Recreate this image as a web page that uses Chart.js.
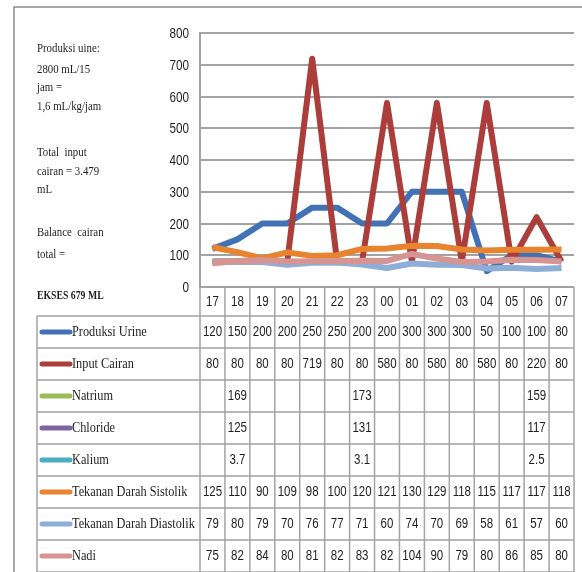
<!DOCTYPE html>
<html>
<head>
<meta charset="utf-8">
<script src="https://cdn.jsdelivr.net/npm/chart.js@4"></script>
<style>
  html, body { margin: 0; padding: 0; background: #fff; }
</style>
</head>
<body>
<canvas id="balanceChart" width="582" height="572"></canvas>
<script>
// Hours of observation (column headers of the table)
const hours = ['17', '18', '19', '20', '21', '22', '23', '00', '01', '02', '03', '04', '05', '06', '07'];

const produksiUrine = [120, 150, 200, 200, 250, 250, 200, 200, 300, 300, 300, 50, 100, 100, 80];
const inputCairan   = [80, 80, 80, 80, 719, 80, 80, 580, 80, 580, 80, 580, 80, 220, 80];
const natrium       = [null, 169, null, null, null, null, 173, null, null, null, null, null, null, 159, null];
const chloride      = [null, 125, null, null, null, null, 131, null, null, null, null, null, null, 117, null];
const kalium        = [null, 3.7, null, null, null, null, 3.1, null, null, null, null, null, null, 2.5, null];
const sistolik      = [125, 110, 90, 109, 98, 100, 120, 121, 130, 129, 118, 115, 117, 117, 118];
const diastolik     = [79, 80, 79, 70, 76, 77, 71, 60, 74, 70, 69, 58, 61, 57, 60];
const nadi          = [75, 82, 84, 80, 81, 82, 83, 82, 104, 90, 79, 80, 86, 85, 80];

const yTicks = [0, 100, 200, 300, 400, 500, 600, 700, 800];

const seriesNames = ['Produksi Urine', 'Input Cairan', 'Natrium', 'Chloride', 'Kalium',
                     'Tekanan Darah Sistolik', 'Tekanan Darah Diastolik', 'Nadi'];
const seriesData = [produksiUrine, inputCairan, natrium, chloride, kalium, sistolik, diastolik, nadi];
const seriesColors = ['#4272b5', '#ab3d3a', '#9bbb59', '#8064a2', '#4bacc6', '#e8842f', '#8eaed8', '#d69593'];

const notes = [
    ['Produksi uine:', 48],
    ['2800 mL/15', 69],
    ['jam =', 87],
    ['1,6 mL/kg/jam', 106],
    ['Total  input', 152],
    ['cairan = 3.479', 171],
    ['mL', 189],
    ['Balance  cairan', 232],
    ['total =', 254]
];
const noteBold = ['EKSES 679 ML', 296];

const SERIF = "'Liberation Serif', 'DejaVu Serif', serif";
const SANS = "'Liberation Sans', Arial, sans-serif";
const GRID = '#a3a3a3';

// text drawn a little narrower, like the condensed fonts of the sheet
function squeezeText(ctx, s, x, y, font, sx, align) {
    ctx.save();
    ctx.font = font;
    ctx.textAlign = align;
    ctx.textBaseline = 'middle';
    ctx.fillStyle = '#1e1e1e';
    ctx.translate(x, y);
    ctx.scale(sx, 1);
    ctx.fillText(s, 0, 0);
    ctx.restore();
}

// data table under the plot, y labels and note text on the left
const tablePlugin = {
    id: 'dataTable',
    afterDraw(chart) {
        const ctx = chart.ctx;
        const xs = chart.scales.x;
        const ys = chart.scales.y;
        const area = chart.chartArea;
        const colW = (area.right - area.left) / hours.length;
        const rowH = 32;
        const headTop = area.bottom;
        const headH = 29;
        const bodyTop = headTop + headH;
        const labelLeft = 37;

        ctx.save();
        // outer frame
        ctx.strokeStyle = '#8a8a8a';
        ctx.lineWidth = 1.5;
        ctx.beginPath();
        ctx.moveTo(14, chart.height);
        ctx.lineTo(14, 7);
        ctx.lineTo(chart.width, 7);
        ctx.stroke();

        ctx.strokeStyle = GRID;
        ctx.lineWidth = 1.5;
        ctx.beginPath();
        // header row
        ctx.moveTo(area.left, headTop);
        ctx.lineTo(area.right, headTop);
        for (let i = 0; i <= hours.length; i++) {
            const x = area.left + i * colW;
            ctx.moveTo(x, headTop);
            ctx.lineTo(x, chart.height);
        }
        // body rows
        for (let r = 0; r <= seriesNames.length; r++) {
            const y = bodyTop + r * rowH;
            ctx.moveTo(labelLeft, y);
            ctx.lineTo(area.right, y);
        }
        ctx.moveTo(labelLeft, bodyTop);
        ctx.lineTo(labelLeft, chart.height);
        ctx.stroke();

        // value axis labels
        yTicks.forEach(v => {
            squeezeText(ctx, String(v), area.left - 11, ys.getPixelForValue(v) + 1, '15px ' + SANS, 0.78, 'right');
        });

        // hour labels
        hours.forEach((h, i) => {
            squeezeText(ctx, h, xs.getPixelForValue(i), headTop + headH / 2 + 1, '14px ' + SANS, 0.82, 'center');
        });

        // series rows
        seriesNames.forEach((name, r) => {
            const cy = bodyTop + r * rowH + rowH / 2;
            ctx.strokeStyle = seriesColors[r];
            ctx.lineWidth = 5;
            ctx.lineCap = 'round';
            ctx.beginPath();
            ctx.moveTo(42, cy);
            ctx.lineTo(70, cy);
            ctx.stroke();
            squeezeText(ctx, name, 72, cy, '15px ' + SERIF, 0.82, 'left');
            seriesData[r].forEach((v, i) => {
                if (v === null) return;
                squeezeText(ctx, String(v), xs.getPixelForValue(i), cy, '14px ' + SANS, 0.82, 'center');
            });
        });

        // notes
        notes.forEach(([s, y]) => squeezeText(ctx, s, 37, y, '13.5px ' + SERIF, 0.8, 'left'));
        squeezeText(ctx, noteBold[0], 37, noteBold[1], 'bold 12.5px ' + SERIF, 0.78, 'left');
        ctx.restore();
    }
};

const ctx = document.getElementById('balanceChart').getContext('2d');

new Chart(ctx, {
    type: 'line',
    data: {
        labels: hours,
        datasets: seriesNames.map((name, i) => ({
            label: name,
            data: seriesData[i],
            borderColor: seriesColors[i],
            backgroundColor: seriesColors[i],
            borderWidth: 6,
            borderJoinStyle: 'round',
            borderCapStyle: 'butt',
            pointRadius: 0,
            tension: 0,
            spanGaps: false,
            order: seriesNames.length - i
        }))
    },
    options: {
        responsive: false,
        animation: false,
        layout: {
            padding: { left: 150, top: 33, right: 8, bottom: 285 }
        },
        plugins: {
            legend: { display: false },
            tooltip: { enabled: false }
        },
        scales: {
            x: {
                display: false,
                offset: true
            },
            y: {
                min: 0,
                max: 800,
                afterFit(scale) { scale.width = 50; },
                afterBuildTicks(scale) { scale.ticks = yTicks.map(v => ({ value: v })); },
                grid: { color: GRID, lineWidth: 2, drawTicks: false },
                border: { display: true, color: GRID, width: 2 },
                ticks: { display: false }
            }
        }
    },
    plugins: [tablePlugin]
});
</script>
</body>
</html>
